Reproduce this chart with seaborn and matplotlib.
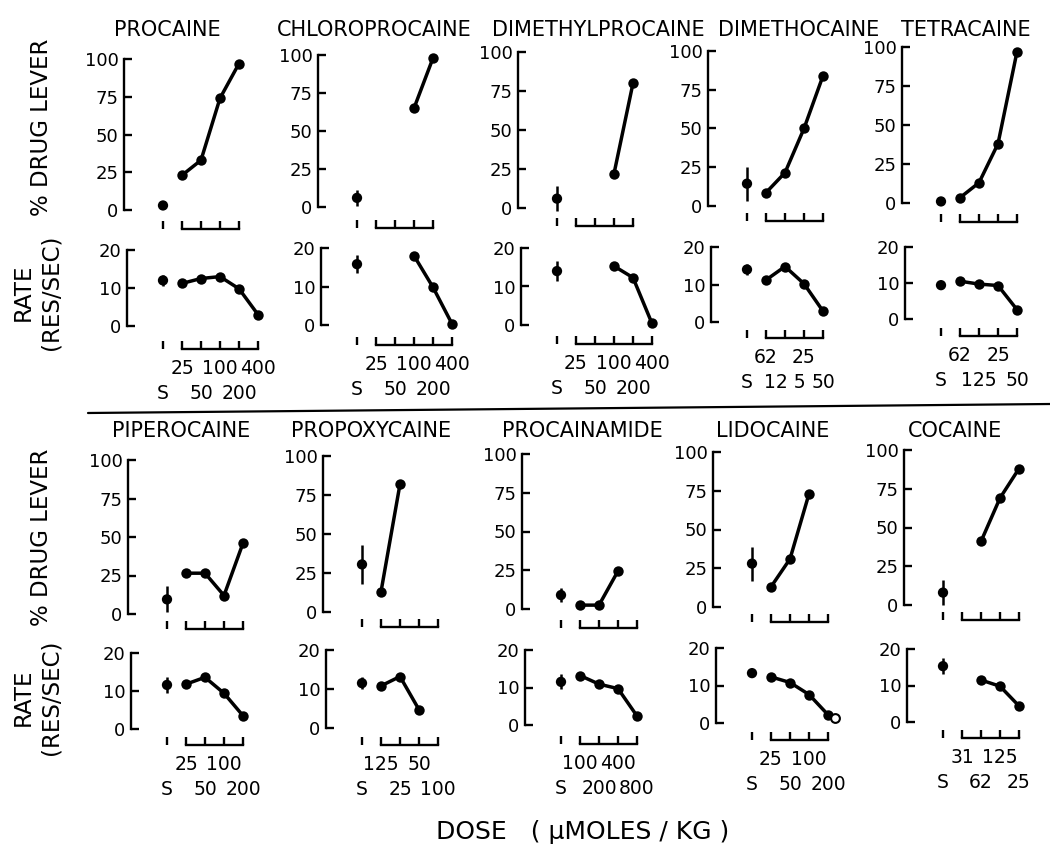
import numpy as np
import pandas as pd
import matplotlib
matplotlib.use("Agg")
import matplotlib.pyplot as plt
import seaborn as sns
from matplotlib.lines import Line2D

sns.set_theme(style="white")
plt.rcParams['font.family'] = ['DejaVu Sans']

nan = np.nan

# ---------------- data ----------------
drugs = ["PROCAINE", "CHLOROPROCAINE", "DIMETHYLPROCAINE", "DIMETHOCAINE", "TETRACAINE",
         "PIPEROCAINE", "PROPOXYCAINE", "PROCAINAMIDE", "LIDOCAINE", "COCAINE"]

dose_labels = [
    ["25", "50", "100", "200", "400"],
    ["25", "50", "100", "200", "400"],
    ["25", "50", "100", "200", "400"],
    ["62", "12 5", "25", "50"],
    ["62", "125", "25", "50"],
    ["25", "50", "100", "200"],
    ["125", "25", "50", "100"],
    ["100", "200", "400", "800"],
    ["25", "50", "100", "200"],
    ["31", "62", "125", "25"],
]

# % drug lever responding at each dose (first four doses)
lever = [
    [23, 33, 74, 97],
    [nan, nan, 65, 98],
    [nan, nan, 22, 80],
    [8.6, 21.5, 50, 84],
    [3.4, 13, 38, 97],
    [26.5, 26.5, 12, 46],
    [13, 82, nan, nan],
    [2.5, 2.5, 24.5, nan],
    [13, 31, 73, nan],
    [nan, 41, 69, 88],
]

# response rate (responses/sec) at each dose
rate = [
    [11.2, 12.5, 13.0, 9.8, 3.0],
    [nan, nan, 18.0, 9.8, 0.3],
    [nan, nan, 15.3, 12.3, 0.4],
    [11.2, 14.8, 10.2, 2.9],
    [10.5, 9.7, 9.3, 2.6],
    [11.8, 13.6, 9.4, 3.5],
    [10.8, 13.2, 4.7, nan],
    [13.2, 10.9, 9.7, 2.4],
    [12.3, 10.8, 7.6, 2.2],
    [nan, 11.5, 9.8, 4.4],
]

# saline (S) values with error ranges
sal_lever = [3, 6, 6, 14.4, 1, 9.5, 30.5, 9, 28, 8]
sal_lever_err = [0, 5.5, 8, 11, 0, 8.5, 12.5, 4.3, 11, 8]
sal_rate = [12, 15.8, 14, 14, 9.4, 11.6, 11.5, 11.5, 13.3, 15.3]
sal_rate_err = [1.5, 2.3, 2.5, 1.5, 0, 2, 1.6, 2, 0, 2.2]

# lidocaine: open-circle rate at highest dose
lido_open_rate = 1.3

lever_ticks = [0, 25, 50, 75, 100]
rate_ticks = [0, 10, 20]

# ---------------- layout (pixels) ----------------
W, H = 1050, 856
S_px = [[163, 357, 557, 747, 941], [167, 362, 561, 752, 943]]
top_y100 = [[59, 55, 52, 51, 47], [460, 456, 454, 452, 450]]
top_y0 = [[210, 207, 208, 206, 203], [614, 612, 609, 607, 605]]
bot_y20 = [[250, 248, 248, 247, 247], [653, 650, 650, 648, 649]]
bot_y0 = [[326, 325, 325, 322, 319], [729, 728, 725, 723, 722]]
top_br = [[19, 21, 18, 15, 19], [15, 15, 19, 15, 15]]
bot_br = [[23, 20, 19, 16, 17], [16, 17, 19, 17, 16]]
title_x = [[167, 374, 598, 799, 966], [181, 371, 582, 773, 955]]
title_y = [30, 431]
UNIT = 19.0
XL, XR = -2.3, 5.5

fig = plt.figure(figsize=(W / 100, H / 100), dpi=100)
fig.patch.set_facecolor("white")


def make_ax(S, ytop_px, y0_px, ymax, br):
    bracket = y0_px + br
    scale = (y0_px - ytop_px) / ymax
    left = S + XL * UNIT
    width = (XR - XL) * UNIT
    ax = fig.add_axes([left / W, 1 - bracket / H, width / W, (bracket - ytop_px) / H])
    ax.set_xlim(XL, XR)
    ax.set_ylim(-br / scale, ymax)
    ax.patch.set_alpha(0)
    for s in ["top", "right"]:
        ax.spines[s].set_visible(False)
    for s in ["left", "bottom"]:
        ax.spines[s].set_linewidth(1.7)
        ax.spines[s].set_color("black")
    ax.tick_params(which="both", direction="in", length=6, width=1.7,
                   colors="black", labelsize=13, pad=4,
                   bottom=True, left=True, top=False, right=False)
    ax.grid(False)
    return ax


def draw_series(ax, vals, sval, serr):
    pos = np.arange(1, len(vals) + 1)
    df = pd.DataFrame({"pos": pos, "val": vals}).dropna()
    sns.lineplot(data=df, x="pos", y="val", ax=ax, color="black", lw=2.5,
                 marker="o", markersize=7.5, markeredgewidth=0,
                 clip_on=False, zorder=3)
    sns.scatterplot(x=[0], y=[sval], ax=ax, color="black", s=55,
                    edgecolor="none", zorder=3, clip_on=False)
    if serr > 0:
        ax.vlines(0, sval - serr, sval + serr, color="black", lw=1.8, zorder=2)
    ax.set_xlabel("")
    ax.set_ylabel("")


for i, name in enumerate(drugs):
    r, c = divmod(i, 5)
    S = S_px[r][c]

    # top panel: % drug lever
    axt = make_ax(S, top_y100[r][c], top_y0[r][c], 100, top_br[r][c])
    draw_series(axt, lever[i], sal_lever[i], sal_lever_err[i])
    axt.spines["left"].set_bounds(0, 100)
    axt.spines["left"].set_position(("data", -2.05))
    n_t = len(lever[i])
    axt.spines["bottom"].set_bounds(1, n_t)
    axt.set_yticks(lever_ticks)
    axt.set_yticklabels([str(t) for t in lever_ticks])
    axt.set_xticks(range(0, n_t + 1))
    axt.tick_params(axis="x", labelbottom=False)

    # bottom panel: rate
    axb = make_ax(S, bot_y20[r][c], bot_y0[r][c], 20, bot_br[r][c])
    draw_series(axb, rate[i], sal_rate[i], sal_rate_err[i])
    if name == "LIDOCAINE":
        sns.scatterplot(x=[len(rate[i]) + 0.35], y=[lido_open_rate], ax=axb,
                        facecolor="white", edgecolor="black", linewidth=1.5,
                        s=40, zorder=4, clip_on=False)
        axb.set_xlabel("")
        axb.set_ylabel("")
    axb.spines["left"].set_bounds(0, 20)
    axb.spines["left"].set_position(("data", -1.9))
    n_b = len(dose_labels[i])
    axb.spines["bottom"].set_bounds(1, n_b)
    axb.set_yticks(rate_ticks)
    axb.set_yticklabels([str(t) for t in rate_ticks])
    pos_all = list(range(0, n_b + 1))
    labs_all = ["S"] + dose_labels[i]
    odd = [p for p in pos_all if p % 2 == 1]
    even = [p for p in pos_all if p % 2 == 0]
    axb.set_xticks(odd)
    axb.set_xticklabels([labs_all[p] for p in odd], fontsize=13.5)
    axb.set_xticks(even, minor=True)
    axb.set_xticklabels([labs_all[p] for p in even], minor=True, fontsize=13.5)
    axb.tick_params(axis="x", which="major", pad=7.5)
    axb.tick_params(axis="x", which="minor", pad=25.5)

    fig.text(title_x[r][c] / W, 1 - title_y[r] / H, name, ha="center",
             va="center", fontsize=15, color="black")

# axis titles
for yc in [127, 537]:
    fig.text(42 / W, 1 - yc / H, "% DRUG LEVER", rotation=90, ha="center",
             va="center", fontsize=16.5, color="black")
for yc in [292, 697]:
    fig.text(37 / W, 1 - yc / H, "RATE\n(RES/SEC)", rotation=90, ha="center",
             va="center", fontsize=16.5, linespacing=1.25, color="black",
             multialignment="center")

# separator line between the two rows
fig.add_artist(Line2D([88 / W, 1.0], [1 - 413 / H, 1 - 404 / H],
                      color="black", lw=1.6))

fig.text(583 / W, 1 - 832 / H, "DOSE   ( \u03bcMOLES / KG )", ha="center",
         va="center", fontsize=18, color="black")

fig.savefig("out.png", dpi=100, facecolor="white")
